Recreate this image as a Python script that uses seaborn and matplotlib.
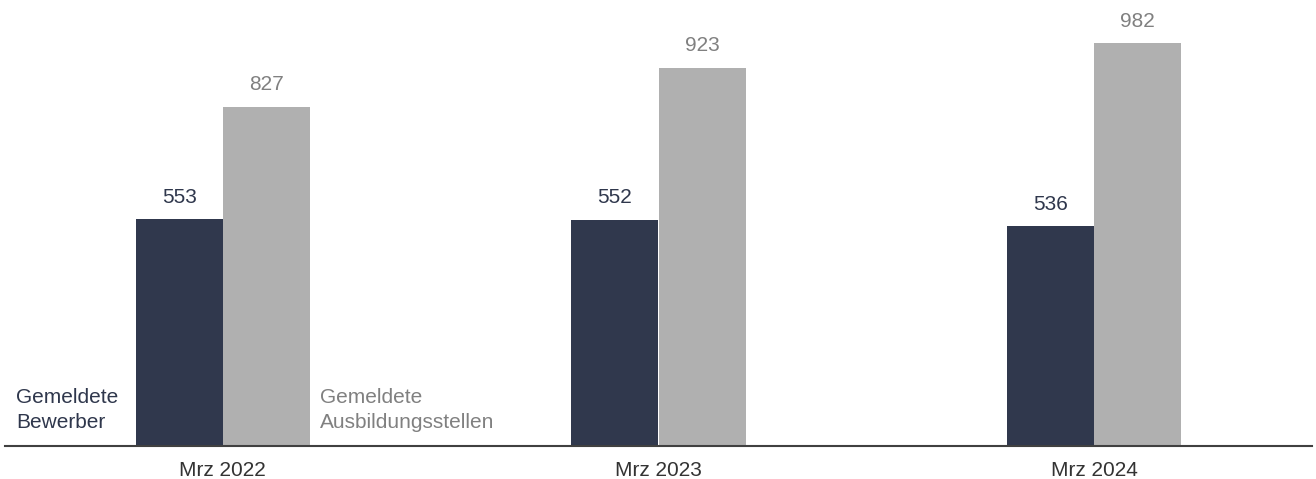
import matplotlib
matplotlib.use("Agg")
import matplotlib.pyplot as plt
import pandas as pd
import seaborn as sns

# values
months = ["Mrz 2022", "Mrz 2023", "Mrz 2024"]
bewerber = [553, 552, 536]
stellen = [827, 923, 982]
series_names = ["Gemeldete\nBewerber", "Gemeldete\nAusbildungsstellen"]

DARK = "#30384d"
GRAY = "#b0b0b0"
DARK_TXT = "#2f374c"
GRAY_TXT = "#808080"

sns.set_theme(style="white")
plt.rcParams['font.family'] = ['Liberation Sans', 'DejaVu Sans']

df = pd.DataFrame({
    "Monat": months * 2,
    "Wert": bewerber + stellen,
    "Reihe": [series_names[0]] * len(months) + [series_names[1]] * len(months),
})

fig = plt.figure(figsize=(13.16, 4.79), dpi=100)
ax = fig.add_axes([5 / 1316, 33 / 479, 1307 / 1316, 446 / 479])

sns.barplot(data=df, x="Monat", y="Wert", hue="Reihe", palette=[DARK, GRAY],
            width=0.4, saturation=1, legend=False, linewidth=0, ax=ax)

ax.set_xlim(-0.5, len(months) - 0.5)
ax.set_ylim(0, 1088)
ax.set_xlabel("")
ax.set_ylabel("")
ax.set_yticks([])
for side in ["left", "right", "top"]:
    ax.spines[side].set_visible(False)
ax.spines["bottom"].set_color("#404040")
ax.spines["bottom"].set_linewidth(1.5)
ax.tick_params(axis="x", length=0, pad=11, labelsize=15, labelcolor="#333333")

for cont, col in zip(ax.containers, [DARK_TXT, GRAY_TXT]):
    ax.bar_label(cont, padding=9, color=col, fontsize=15)

# series names next to the first group
first_gray = ax.containers[1][0]
ax.annotate(series_names[0], xy=(ax.get_xlim()[0], 0), xytext=(11, 14),
            textcoords="offset pixels", ha="left", va="bottom",
            fontsize=15, color=DARK_TXT, linespacing=1.38)
ax.annotate(series_names[1], xy=(first_gray.get_x() + first_gray.get_width(), 0),
            xytext=(10, 14), textcoords="offset pixels", ha="left", va="bottom",
            fontsize=15, color=GRAY_TXT, linespacing=1.38)

fig.savefig("out.png", dpi=100)
